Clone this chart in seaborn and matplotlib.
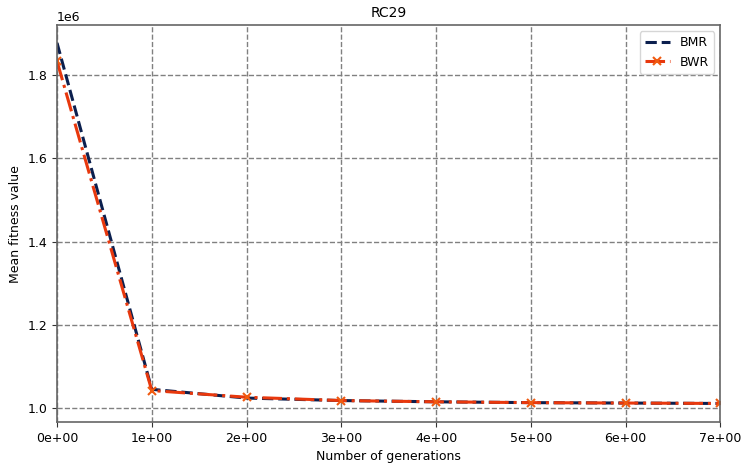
import matplotlib
matplotlib.use("Agg")
import matplotlib.pyplot as plt
import matplotlib.ticker as mticker
import seaborn as sns
import pandas as pd

generations = [0, 1, 2, 3, 4, 5, 6, 7]
bmr = [1.877e6, 1.045e6, 1.024e6, 1.018e6, 1.015e6, 1.013e6, 1.012e6, 1.011e6]
bwr = [1.833e6, 1.042e6, 1.026e6, 1.018e6, 1.015e6, 1.013e6, 1.012e6, 1.011e6]

sns.set_style("ticks")
plt.rcParams['font.family'] = ['DejaVu Sans']
plt.rcParams['text.color'] = 'black'
plt.rcParams['axes.labelcolor'] = 'black'
plt.rcParams['xtick.color'] = 'black'
plt.rcParams['ytick.color'] = 'black'

fig = plt.figure(figsize=(7.41, 4.66), dpi=100)
ax = fig.add_axes([0.077, 0.094, 0.895, 0.852])

df_bmr = pd.DataFrame({"gen": generations, "val": bmr})
df_bwr = pd.DataFrame({"gen": generations, "val": bwr})

sns.lineplot(data=df_bmr, x="gen", y="val", ax=ax, color="#0b1f4e",
             linestyle="--", linewidth=2.2, label="BMR")
sns.lineplot(data=df_bwr, x="gen", y="val", ax=ax, color="#e8380d",
             linestyle="-.", linewidth=2.2, marker="x", markersize=6,
             markeredgewidth=1.5, markeredgecolor="#f05a10", label="BWR")

ax.set_xlim(0, 7)
ax.set_ylim(0.966e6, 1.92e6)
ax.set_xticks(generations)
ax.xaxis.set_major_formatter(mticker.FormatStrFormatter('%.0e'))
ax.grid(True, linestyle="--", color="#808080", linewidth=1)
ax.set_xlabel("Number of generations", fontsize=9)
ax.set_ylabel("Mean fitness value", fontsize=9)
ax.set_title("RC29", fontsize=10)
ax.tick_params(labelsize=9, direction="out", color="#333333")
ax.yaxis.get_offset_text().set_fontsize(9)
for s in ax.spines.values():
    s.set_color("#666666")
    s.set_linewidth(1.2)
ax.legend(loc="upper right", fontsize=9)

fig.savefig("out.png", dpi=100)
